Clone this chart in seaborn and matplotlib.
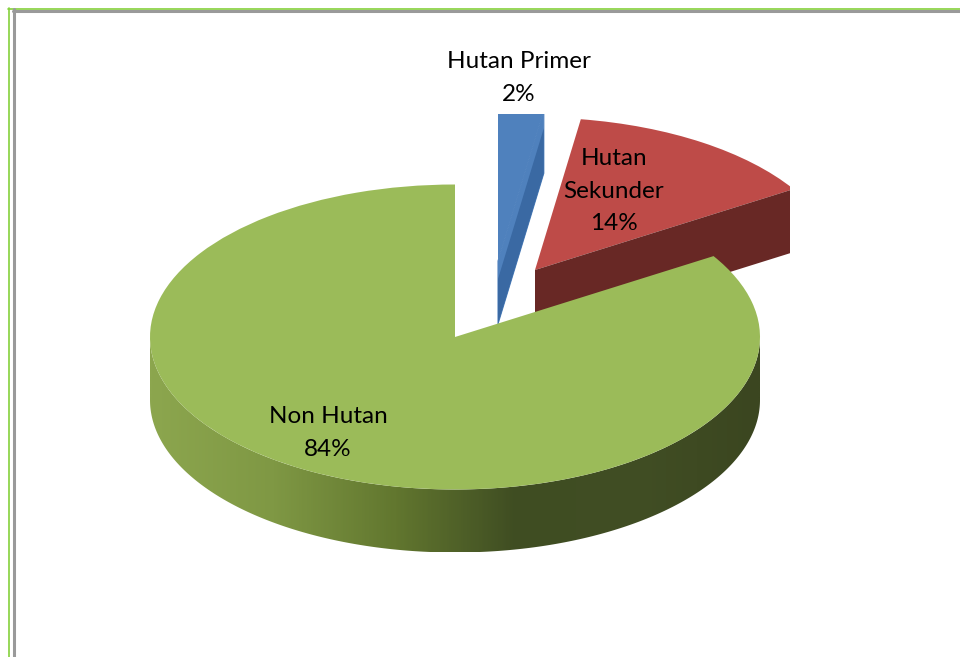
import numpy as np
import seaborn as sns
import matplotlib.pyplot as plt
from matplotlib.patches import Rectangle, Polygon

categories = ['Hutan Primer', 'Hutan\nSekunder', 'Non Hutan']
shares = [2.4, 13.7, 83.9]

top_colors = ['#4F81BD', '#BE4B48', '#9BBB59']
cut_colors = ['#3A69A3', '#682825', None]
rim_stops = ['#8CA64E', '#7F9844', '#62772F', '#3F4D22', '#414E24', '#3B4620']

W, H = 960, 657
RADIUS = 305
DEPTH = 63


def py(y_px):
    # y pixel from the top -> data y (data is stretched 2x so the pie looks tilted)
    return (H - y_px) * 2


sns.set_theme(style='white')
plt.rcParams['font.family'] = ['Lato', 'DejaVu Sans']

fig = plt.figure(figsize=(W / 100, H / 100), dpi=100)
ax = fig.add_axes([0, 0, 1, 1])

wedges, _ = ax.pie(shares, colors=top_colors, startangle=90, counterclock=False,
                   radius=RADIUS, wedgeprops=dict(linewidth=0))
ax.set_aspect('auto')

# slices are pulled apart by hand, each with its own offset
centers = [(498, py(261)), (535, py(270)), (455, py(337))]
for w, c in zip(wedges, centers):
    w.set_center(c)

# the picture crops the blue slice on top and the red one on the right
clips = [Rectangle((0, 0), W, py(114), transform=ax.transData),
         Rectangle((0, 0), 790, H * 2, transform=ax.transData)]

# cut faces of the two pulled out slices, facing the viewer
for i, w in enumerate(wedges[:2]):
    ang = np.radians(w.theta1)
    cx, cy = w.center
    ex, ey = cx + RADIUS * np.cos(ang), cy + RADIUS * np.sin(ang)
    d = DEPTH * 2
    # blue only turns dark a bit below its top edge
    gap = 36 if i == 0 else 0
    if gap:
        under = ax.fill([cx, ex, ex, cx], [cy, ey, ey - d, cy - d], facecolor=top_colors[i],
                        edgecolor=top_colors[i], lw=0.8, zorder=1)
        under[0].set_clip_path(clips[i])
    face = ax.fill([cx, ex, ex, cx], [cy - gap, ey - gap, ey - d, cy - d],
                   color=cut_colors[i], lw=0, zorder=2.5)
    face[0].set_clip_path(clips[i])
    w.set_clip_on(True)
    w.set_clip_path(clips[i])
    w.set_zorder(2)

# rim of the big slice, shaded left to right
green = wedges[2]
gx, gy = green.center
rim = np.array(sns.blend_palette(rim_stops, n_colors=200))
thetas = np.radians(np.linspace(-180, 0, 241))
rim_x = gx + RADIUS * np.cos(thetas)
rim_y = gy + RADIUS * np.sin(thetas)
outline = np.r_[np.c_[rim_x, rim_y], np.c_[rim_x, rim_y - DEPTH * 2][::-1]]
shade = ax.imshow(rim[None, :, :], extent=[gx - RADIUS, gx + RADIUS, gy - RADIUS - DEPTH * 2, gy],
                  aspect='auto', interpolation='bilinear', zorder=3)
shade.set_clip_path(Polygon(outline, transform=ax.transData))
green.set_zorder(4)

ax.set_xlim(0, W)
ax.set_ylim(0, H * 2)
ax.set_axis_off()

# data labels
label_pos = [(519, 78), (614, 191), (328, 433)]
for name, val, (x, y) in zip(categories, shares, label_pos):
    ax.text(x, py(y), f'{name}\n{val:.0f}%', ha='center', va='center',
            fontsize=17.5, linespacing=1.68, color='black', zorder=6)

# page border from the scanned document
ax.plot([8.5, 8.5], [py(8), py(H)], color='#85D13C', lw=1.2, zorder=7)
ax.plot([8, W], [py(8.5), py(8.5)], color='#85D13C', lw=1.2, zorder=7)
ax.plot([14, 14], [py(9), py(H)], color='#9A9A9A', lw=2.2, zorder=7)
ax.plot([13, W], [py(10.5), py(10.5)], color='#9A9A9A', lw=2.2, zorder=7)

fig.savefig('out.png', dpi=100)
